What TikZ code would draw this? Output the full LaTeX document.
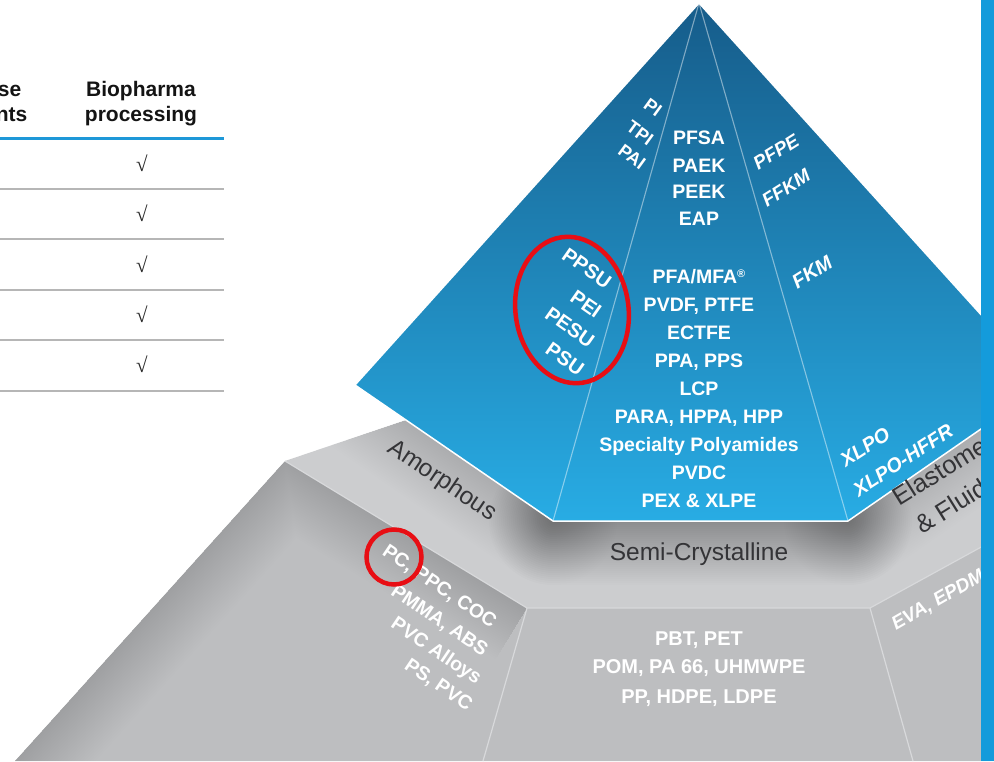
\documentclass[tikz,border=0pt]{standalone}
\usepackage{fontspec}
\setmainfont{Liberation Sans}
\newfontfamily\ckfont{Liberation Serif}
\usetikzlibrary{calc}
\definecolor{bTop}{RGB}{22,92,138}
\definecolor{bBot}{RGB}{40,172,228}
\definecolor{stripe}{RGB}{20,155,219}
\definecolor{rblue}{RGB}{30,152,216}
\definecolor{rgrey}{RGB}{182,182,182}
\definecolor{gBase}{RGB}{189,190,192}
\definecolor{gLight}{RGB}{204,205,207}
\definecolor{gLine}{RGB}{216,217,219}
\definecolor{darktxt}{RGB}{52,52,55}
\definecolor{mred}{RGB}{232,14,20}
\tikzset{
  wb/.style={text=white, inner sep=0pt, text depth=0pt, font=\bfseries\fontsize{#1}{#1}\selectfont},
  wbi/.style={text=white, inner sep=0pt, text depth=0pt, font=\bfseries\itshape\fontsize{#1}{#1}\selectfont},
  gt/.style={text=darktxt, inner sep=0pt, font=\fontsize{24.5}{24.5}\selectfont},
  hd/.style={text=black!92, inner sep=0pt, anchor=base, font=\bfseries\fontsize{21}{21}\selectfont},
  ck/.style={inner sep=0pt, text=black!85, font=\ckfont\fontsize{21}{21}\selectfont},
  facet/.style={draw=gLine, line width=1.2pt},
  redring/.style={draw=mred, line width=4.5pt},
  tblrule/.style={draw=rgrey, line width=2pt},
  divl/.style={draw=white, opacity=0.45, line width=1.1pt},
}
\begin{document}
\begin{tikzpicture}[x=1pt,y=-1pt]
\useasboundingbox (0,0) rectangle (994,761);
\clip (0,0) rectangle (994,761);
\fill[white] (0,0) rectangle (994,761);

% ---------- key points ----------
\coordinate (apex) at (699,3);
\coordinate (bl) at (355,385);
\coordinate (bc1) at (553,521);
\coordinate (bc2) at (848,521);
\coordinate (br) at (994,420);
\coordinate (rt) at (994,329);
\coordinate (g0) at (285,461);
\coordinate (g1) at (406,420);
\coordinate (m1) at (527,608);
\coordinate (m2) at (870,608);
\coordinate (m3) at (994,540);
\coordinate (f0) at (15,761);
\coordinate (f1) at (483,761);
\coordinate (f2) at (913,761);
\coordinate (f3) at (994,761);

% ---------- table ----------
\node[hd, anchor=base east] (h1a) at (21.5,96) {se};
\node[hd, anchor=base east] (h1b) at (27.5,121) {nts};
\node[hd] (h2a) at (141,96) {Biopharma};
\node[hd] (h2b) at (141,121) {processing};
\draw[rblue, line width=3pt] (0,138) -- (224,138);
\foreach \y in {188.5,239,289.5,340,390.5} \draw[tblrule] (0,\y) -- (224,\y);
\foreach \y [count=\i] in {163,213,264,314,364} \node[ck] (ck\i) at (142,\y) {√};

% ---------- grey band (upper surfaces) ----------
\fill[gLight] (g0) -- (g1) -- (bc1) -- (bc2) -- (br) -- (m3) -- (m2) -- (m1) -- cycle;
\begin{scope}
  \clip (g0) -- (g1) -- (bc1) -- (bc2) -- (br) -- (m3) -- (m2) -- (m1) -- cycle;
  \foreach \w in {4,8,...,130} {
    \draw[black, opacity=0.0075, line width=\w pt, line cap=round] (bc1) -- (bc2);
    \draw[black, opacity=0.0045, line width=\w pt, line cap=round] (bl) -- (bc1);
    \draw[black, opacity=0.0045, line width=\w pt, line cap=round] (bc2) -- (br);
  }
\end{scope}

% ---------- grey lower faces ----------
\fill[gBase] (g0) -- (m1) -- (f1) -- (f0) -- cycle;
\fill[gBase] (m1) -- (m2) -- (f2) -- (f1) -- cycle;
\fill[gBase] (m2) -- (m3) -- (f3) -- (f2) -- cycle;
\begin{scope}
  \clip (g0) -- (m1) -- (f1) -- (f0) -- cycle;
  \foreach \w in {4,8,...,120} {
    \draw[black, opacity=0.005, line width=\w pt, line join=round] (f0) -- (g0) -- (m1);
  }
\end{scope}
\draw[facet] (g0) -- (m1) -- (m2) -- (m3);
\draw[facet] (m1) -- (f1);
\draw[facet] (m2) -- (f2);

% ---------- blue pyramid ----------
\shade[top color=bTop, bottom color=bBot] (apex) -- (bl) -- (bc1) -- (bc2) -- (br) -- (rt) -- cycle;
\draw[divl] (apex) -- (bc1);
\draw[divl] (apex) -- (bc2);
\draw[white, line width=1.5pt, line join=round] (rt) -- (apex) -- (bl) -- (bc1) -- (bc2) -- (br);

% ---------- labels in blue ----------
\foreach \t/\y [count=\i] in {PFSA/144, PAEK/172, PEEK/198, EAP/225}
  \node[wb=19.5, anchor=base] (top\i) at (699,\y) {\t};
\node[wb=19.5, anchor=base] (pfa) at (699,283) {PFA/MFA\raisebox{6pt}{\fontsize{11}{11}\selectfont ®}};
\foreach \t/\y [count=\i] in {{PVDF, PTFE}/311.5, ECTFE/339.5, {PPA, PPS}/367, LCP/395.5, {PARA, HPPA, HPP}/423.5, Specialty Polyamides/451.5, PVDC/479, PEX \& XLPE/507}
  \node[wb=19.5, anchor=base] (low\i) at (699,\y) {\t};

\node[wb=18, rotate=-36] (pi) at (653,107) {PI};
\node[wb=18, rotate=-36] (tpi) at (640,133) {TPI};
\node[wb=18, rotate=-36] (pai) at (632,157) {PAI};
\node[wb=20, rotate=-35] (ppsu) at (587,268) {PPSU};
\node[wb=20, rotate=-35] (pei) at (586,304) {PEI};
\node[wb=20, rotate=-35] (pesu) at (570,327) {PESU};
\node[wb=20, rotate=-35] (psu) at (565,359) {PSU};
\node[wbi=19, rotate=32] (pfpe) at (776,152) {PFPE};
\node[wbi=19, rotate=32] (ffkm) at (786,188) {FFKM};
\node[wbi=20, rotate=32] (fkm) at (812,272) {FKM};
\node[wbi=20, rotate=33] (xlpo) at (865,447) {XLPO};
\node[wbi=20, rotate=33] (xlpoh) at (903,460) {XLPO-HFFR};

% ---------- labels in grey ----------
\node[gt, rotate=-34] (amor) at (442,481) {Amorphous};
\node[gt, anchor=base] (semi) at (699,560) {Semi-Crystalline};
\node[gt, anchor=base west, rotate=32, font=\fontsize{25.5}{25.5}\selectfont] (elas) at (899,507) {Elastomers};
\node[gt, anchor=base west, rotate=32, font=\fontsize{25.5}{25.5}\selectfont] (flu) at (922,535) {\& Fluids};

\node[wb=19.5, rotate=-34] (pc) at (440,586) {PC, PPC, COC};
\node[wb=19.5, rotate=-34] (pmma) at (440,620) {PMMA, ABS};
\node[wb=19.5, rotate=-34] (pvca) at (437,650) {PVC Alloys};
\node[wb=19.5, rotate=-34] (pspvc) at (439,684) {PS, PVC};
\node[wb=20, anchor=base] (pbt) at (699,645) {PBT, PET};
\node[wb=20, anchor=base] (pom) at (699,673) {POM, PA 66, UHMWPE};
\node[wb=20, anchor=base] (pp) at (699,703) {PP, HDPE, LDPE};
\node[wbi=19, anchor=base west, rotate=30] (eva) at (896,631) {EVA, EPDM};

% ---------- right stripe ----------
\fill[stripe] (981,0) rectangle (994,761);

% ---------- red rings ----------
\draw[redring] (572,310) ellipse [x radius=56.5pt, y radius=73.5pt, rotate=8];
\draw[redring] (394,557) circle [radius=27.5pt];
\end{tikzpicture}
\end{document}
